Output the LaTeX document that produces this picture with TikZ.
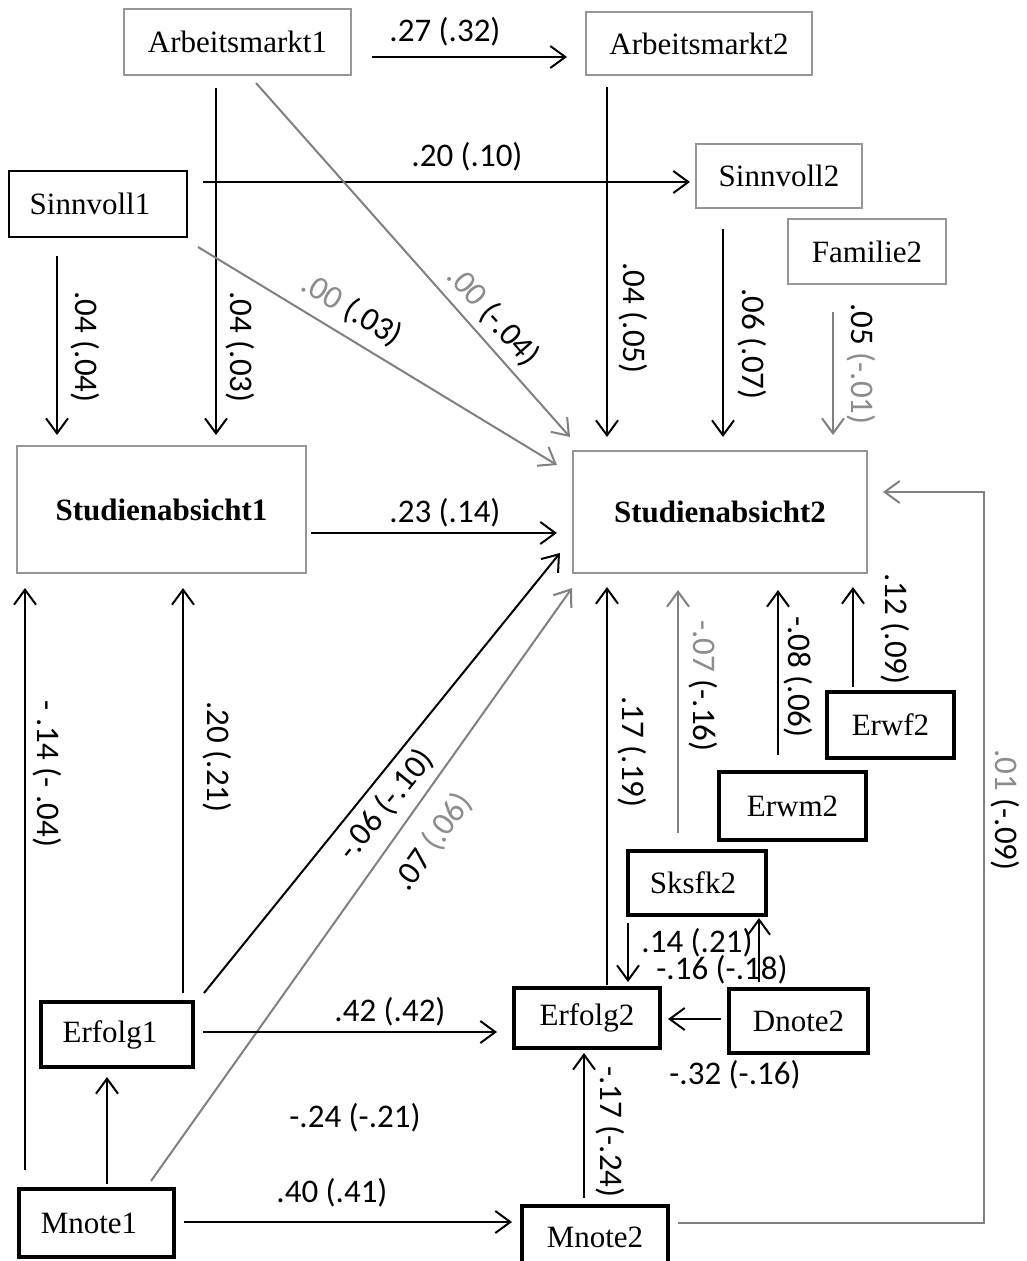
\documentclass[tikz,border=0pt]{standalone}
\usepackage{fontspec}
\setmainfont{Liberation Serif}
\newfontfamily\labfont{Carlito}
\usetikzlibrary{arrows.meta,calc}
\definecolor{bgray}{RGB}{150,150,150}
\definecolor{lgray}{RGB}{128,128,128}
\definecolor{tgray}{RGB}{140,140,140}
\begin{document}
\begin{tikzpicture}[x=1pt,y=-1pt,
  nbox/.style={rectangle, inner sep=0pt, outer sep=0pt, font=\fontsize{31}{36}\selectfont},
  gbox/.style={nbox, draw=bgray, line width=1.5pt},
  kbox/.style={nbox, draw=black, line width=1.8pt},
  tbox/.style={nbox, draw=black, line width=3.6pt},
  arr/.style={line width=2pt, -{Straight Barb[length=15pt,width=22pt]}},
  garr/.style={arr, draw=lgray},
  lab/.style={inner sep=0pt, font=\labfont\fontsize{33}{38}\selectfont},
  vlab/.style={lab, rotate=-90}
]
\useasboundingbox (0,0) rectangle (1026,1261);
\fill[white] (0,0) rectangle (1026,1261);

% nodes
\node[gbox, minimum width=227pt, minimum height=66pt] (A1) at (237.5,42) {Arbeitsmarkt1};
\node[gbox, minimum width=226pt, minimum height=63pt] (A2) at (699,43.5) {Arbeitsmarkt2};
\node[kbox, minimum width=178pt, minimum height=66pt] (S1) at (98,204) {\hspace*{-16pt}Sinnvoll1};
\node[gbox, minimum width=166pt, minimum height=64pt] (S2) at (779,176) {Sinnvoll2};
\node[gbox, minimum width=158pt, minimum height=65pt] (F2) at (867,251.5) {Familie2};
\node[gbox, minimum width=289pt, minimum height=127pt] (St1) at (161.5,509.5) {\textbf{Studienabsicht1}};
\node[gbox, minimum width=294pt, minimum height=122pt] (St2) at (720,512) {\textbf{Studienabsicht2}};
\node[tbox, minimum width=127pt, minimum height=66pt] (Ef) at (890.5,725) {Erwf2};
\node[tbox, minimum width=147pt, minimum height=68pt] (Em) at (792.5,806) {Erwm2};
\node[tbox, minimum width=138pt, minimum height=64pt] (Sk) at (697,883) {\hspace*{-8pt}Sksfk2};
\node[tbox, minimum width=146pt, minimum height=60pt] (E2) at (587,1018) {Erfolg2};
\node[tbox, minimum width=139pt, minimum height=64pt] (D2) at (798.5,1021) {Dnote2};
\node[tbox, minimum width=152pt, minimum height=65pt] (E1) at (117,1034.5) {\hspace*{-14pt}Erfolg1};
\node[tbox, minimum width=155pt, minimum height=68pt] (M1) at (96.5,1223) {\hspace*{-15pt}Mnote1};
\node[tbox, minimum width=146pt, minimum height=62pt] (M2) at (595,1237) {Mnote2};

% connectors
\draw[arr] ($(A1.east)+(21,15)$) -- ($(A2.west)+(-19,13.5)$);
\draw[arr] ($(S1.east)+(16,-22)$) -- ($(S2.west)+(-6,6)$);
\draw[arr] ($(A1.south)+(-21.5,13)$) -- ($(St1.north)+(54.5,-11)$);
\draw[arr] ($(S1.south)+(-41,19)$) -- ($(St1.north)+(-104.5,-11)$);
\draw[garr] ($(A1.south)+(18.5,8)$) -- ($(St2.north)+(-150,-14)$);
\draw[garr] ($(S1.east)+(11,43)$) -- ($(St2.west)+(-16,-47)$);
\draw[arr] ($(A2.south)+(-92,12)$) -- ($(St2.north)+(-113,-14)$);
\draw[arr] ($(S2.south)+(-56,21)$) -- ($(St2.north)+(3,-14)$);
\draw[garr] ($(F2.south)+(-34,28)$) -- ($(St2.north)+(113,-16)$);
\draw[arr] ($(St1.east)+(5,23.5)$) -- ($(St2.west)+(-16,21)$);
\draw[arr] ($(M1.north)+(-71.5,-19)$) -- ($(St1.south)+(-136.5,15)$);
\draw[arr] ($(E1.north)+(66,-9)$) -- ($(St1.south)+(21.5,15)$);
\draw[arr] ($(E1.north east)+(11,-9)$) -- ($(St2.west)+(-13,41)$);
\draw[garr] ($(M1.north)+(54.5,-8)$) -- ($(St2.south west)+(-1,15)$);
\draw[arr] ($(M1.north)+(10.5,-5)$) -- ($(E1.south)+(-10,10)$);
\draw[arr] ($(E1.east)+(10,-2.5)$) -- ($(E2.west)+(-17,14)$);
\draw[arr] ($(M1.east)+(10,-1)$) -- ($(M2.west)+(-10,-15)$);
\draw[arr] ($(M2.north)+(-11,-8)$) -- ($(E2.south)+(-3,5)$);
\draw[arr] ($(D2.west)+(-8,-2)$) -- ($(E2.east)+(8,1)$);
\draw[arr] ($(Sk.south)+(-69,8)$) -- ($(E2.north)+(41,-6)$);
\draw[arr] ($(D2.north)+(-39.5,-7)$) -- ($(Sk.south)+(62,3)$);
\draw[arr] ($(E2.north)+(20,-3)$) -- ($(St2.south)+(-113,14)$);
\draw[garr] ($(Sk.north)+(-19,-18)$) -- ($(St2.south)+(-42,17)$);
\draw[arr] ($(Em.north)+(-14.5,-17)$) -- ($(St2.south)+(58,17)$);
\draw[arr] ($(Ef.north)+(-37.5,-5)$) -- ($(St2.south)+(133,14)$);
\draw[garr] ($(M2.east)+(10,-14)$) -| ($(St2.east)+(117,-20)$) -- ($(St2.east)+(16,-20)$);

% labels
\node[lab] (l1) at (445,32) {.27 (.32)};
\node[lab] (l2) at (467,157) {.20 (.10)};
\node[vlab] (l3) at (85,347) {.04 (.04)};
\node[vlab] (l4) at (240,347) {.04 (.03)};
\node[lab, rotate=-31.3] (l5) at (352,310) {{\color{tgray}.00} (.03)};
\node[lab, rotate=-48.4] (l6) at (493,316) {{\color{tgray}.00} (-.04)};
\node[vlab] (l7) at (633,318) {.04 (.05)};
\node[vlab] (l8) at (752,344) {.06 (.07)};
\node[vlab] (l9) at (861,364) {.05 {\color{tgray}(-.01)}};
\node[lab] (l10) at (445,513) {.23 (.14)};
\node[vlab] (l11) at (47,774) {- .14 (- .04)};
\node[vlab] (l12) at (217,757) {.20 (.21)};
\node[lab, rotate=51] (l13) at (386,805) {-.06 (-.10)};
\node[lab, rotate=54.6] (l14) at (433,842) {.07 {\color{tgray}(.06)}};
\node[vlab] (l15) at (632,752) {.17 (.19)};
\node[vlab] (l16) at (703,686) {{\color{tgray}-.07} (-.16)};
\node[vlab] (l17) at (798,677) {-.08 (.06)};
\node[vlab] (l18) at (895,629) {.12 (.09)};
\node[vlab] (l19) at (1005,810) {{\color{tgray}.01} (-.09)};
\node[lab] (l20) at (390,1012) {.42 (.42)};
\node[lab] (l21) at (355,1118) {-.24 (-.21)};
\node[lab] (l22) at (332,1193) {.40 (.41)};
\node[lab] (l23) at (697,943) {.14 (.21)};
\node[lab] (l24) at (722,970) {-.16 (-.18)};
\node[lab] (l25) at (735,1075) {-.32 (-.16)};
\node[vlab] (l26) at (610,1132) {-.17 (-.24)};
\end{tikzpicture}
\end{document}
